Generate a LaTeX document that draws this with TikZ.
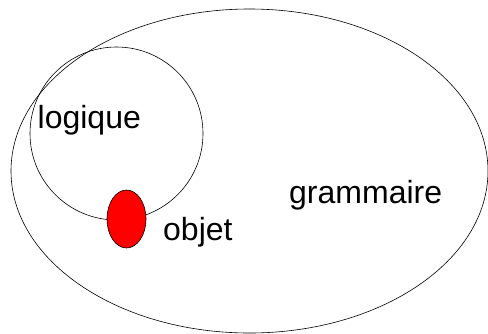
\documentclass[tikz,border=0pt]{standalone}
\usepackage{fontspec}
\setmainfont{Liberation Sans}
\usetikzlibrary{shapes.geometric}
\begin{document}
\begin{tikzpicture}[x=1pt,y=-1pt,
  set/.style={draw=black,line width=0.6pt,ellipse,inner sep=0pt},
  lbl/.style={anchor=base west,inner sep=0pt,font=\fontsize{32}{36}\selectfont}]
\useasboundingbox (0,0) rectangle (488,333);
\node[set,minimum width=477pt,minimum height=324pt] (gram) at (249.5,171) {};
\node[set,circle,minimum size=173pt] (logi) at (116.5,133.5) {};
\node[set,fill=red,minimum width=39pt,minimum height=58pt] (obj) at (126.5,219) {};
\node[lbl] (tlogi) at (37.5,128) {logique};
\node[lbl] (tgram) at (289,203) {grammaire};
\node[lbl] (tobj) at (163,240) {objet};
\end{tikzpicture}
\end{document}
